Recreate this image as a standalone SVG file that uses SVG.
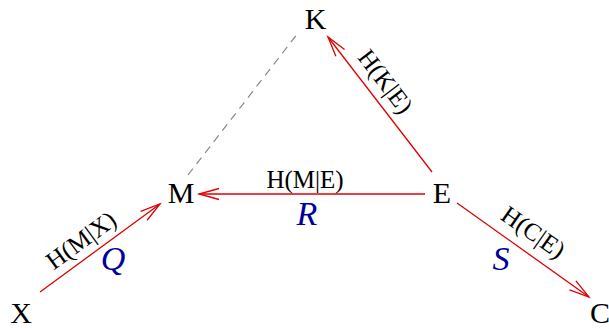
<svg xmlns="http://www.w3.org/2000/svg" width="609" height="329" viewBox="0 0 609 329">
<style>
.node{font-family:"Liberation Serif","Times New Roman",serif;font-size:30px;fill:#000;text-anchor:middle}
.lab{font-family:"Liberation Serif","Times New Roman",serif;font-size:25px;fill:#000;text-anchor:middle}
.var{font-family:"Liberation Serif","Times New Roman",serif;font-size:34px;font-style:italic;fill:#00009a;text-anchor:middle}
.edge{stroke:#e00000;stroke-width:1.3;fill:none;marker-end:url(#arr)}
.dash{stroke:#888;stroke-width:1.2;stroke-dasharray:8 6;fill:none}
</style>
<defs>
<marker id="arr" markerUnits="userSpaceOnUse" markerWidth="24" markerHeight="14" refX="0" refY="0" viewBox="-22 -7 24 14" orient="auto" overflow="visible">
<path d="M-20,-5.5 L0,0 L-20,5.5" fill="none" stroke="#e00000" stroke-width="1.3"/>
</marker>
</defs>
<g id="connectors">
<line class="dash" x1="188" y1="175" x2="298" y2="33"/>
<line class="edge" x1="432" y1="172" x2="328" y2="37"/>
<line class="edge" x1="425" y1="194" x2="199" y2="194"/>
<line class="edge" x1="40" y1="292" x2="160" y2="204"/>
<line class="edge" x1="457" y1="203" x2="589" y2="297"/>
<text class="lab" transform="translate(379,86.5) rotate(52.7)">H(K|E)</text>
<text class="lab" x="305" y="187.5">H(M|E)</text>
<text class="lab" transform="translate(86,247) rotate(-36)">H(M|X)</text>
<text class="lab" transform="translate(528.5,239) rotate(35)">H(C|E)</text>
<text class="var" x="307" y="225">R</text>
<text class="var" x="113" y="270">Q</text>
<text class="var" x="501" y="270">S</text>
</g>
<g id="K"><text class="node" x="315.5" y="29">K</text></g>
<g id="M"><text class="node" x="181" y="203">M</text></g>
<g id="E"><text class="node" x="442" y="203">E</text></g>
<g id="X"><text class="node" x="21" y="323">X</text></g>
<g id="C"><text class="node" x="600" y="323">C</text></g>
</svg>
